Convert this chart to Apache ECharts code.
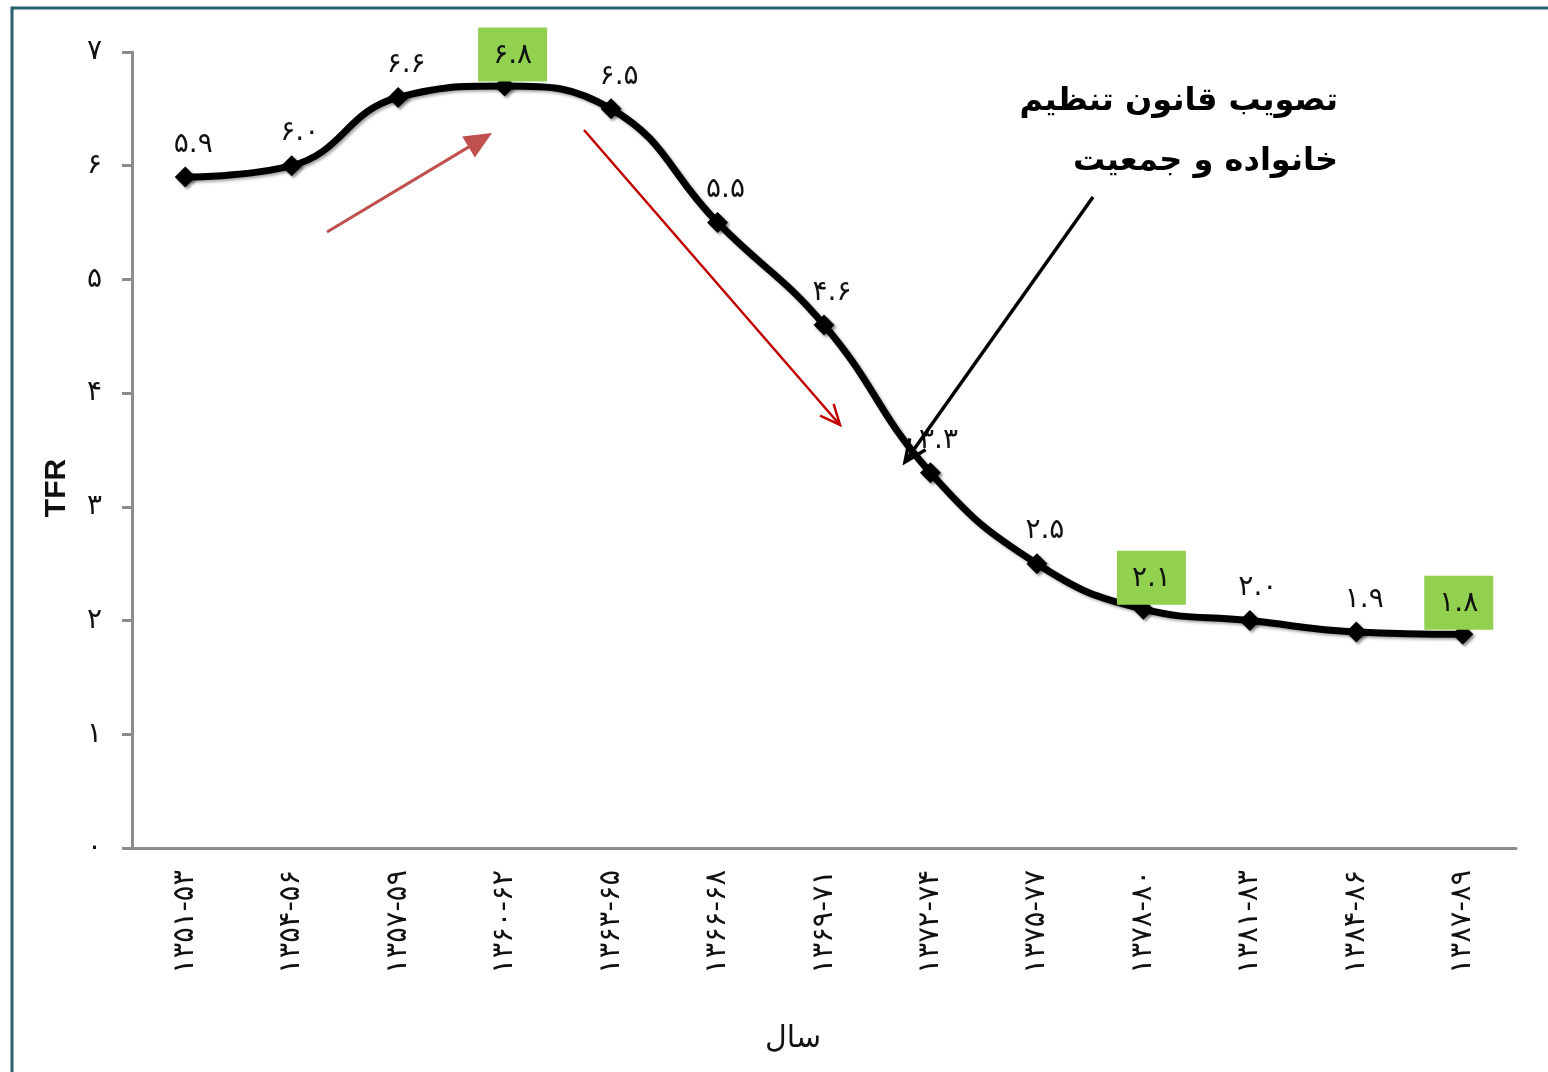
<!DOCTYPE html>
<html>
<head>
<meta charset="utf-8">
<script src="https://cdn.jsdelivr.net/npm/echarts@6/dist/echarts.min.js"></script>
<style>
html,body{margin:0;padding:0;background:#fff;}
#chart{width:1548px;height:1072px;}
</style>
</head>
<body>
<div id="chart"></div>
<script>
// ---- data ----
var categories = ['۱۳۵۱-۵۳','۱۳۵۴-۵۶','۱۳۵۷-۵۹','۱۳۶۰-۶۲','۱۳۶۳-۶۵','۱۳۶۶-۶۸','۱۳۶۹-۷۱','۱۳۷۲-۷۴','۱۳۷۵-۷۷','۱۳۷۸-۸۰','۱۳۸۱-۸۳','۱۳۸۴-۸۶','۱۳۸۷-۸۹'];
var tfrValues = [5.9, 6.0, 6.6, 6.7, 6.5, 5.5, 4.6, 3.3, 2.5, 2.1, 2.0, 1.9, 1.88];
var valueLabels = ['۵.۹','۶.۰','۶.۶','۶.۸','۶.۵','۵.۵','۴.۶','۳.۳','۲.۵','۲.۱','۲.۰','۱.۹','۱.۸'];
var highlightedIdx = [3, 9, 12];
var yTickLabels = ['۰','۱','۲','۳','۴','۵','۶','۷'];
var yAxisTitle = 'TFR';
var xAxisTitle = 'سال';
var noteLines = ['تصویب قانون تنظیم', 'خانواده و جمعیت'];

// ---- chart ----
var chart = echarts.init(document.getElementById('chart'));
var persianFont = '"DejaVu Sans", "Noto Sans", sans-serif';

var seriesData = tfrValues.map(function (v, i) {
  var item = { value: v };
  if (highlightedIdx.indexOf(i) >= 0) {
    item.label = {
      backgroundColor: '#92d050',
      padding: [14, 15, 12, 15],
      distance: -6,
      offset: i === 12 ? [-4, 0] : [8, 0]
    };
  }
  return item;
});

function arrowGraphics(x1, y1, x2, y2, color, width, headLen, filled) {
  var ang = Math.atan2(y2 - y1, x2 - x1);
  var a1 = ang + Math.PI - 0.42, a2 = ang + Math.PI + 0.42;
  var p1 = [x2 + headLen * Math.cos(a1), y2 + headLen * Math.sin(a1)];
  var p2 = [x2 + headLen * Math.cos(a2), y2 + headLen * Math.sin(a2)];
  var out = [];
  var endX = filled ? x2 - headLen * 0.8 * Math.cos(ang) : x2;
  var endY = filled ? y2 - headLen * 0.8 * Math.sin(ang) : y2;
  out.push({ type: 'line', shape: { x1: x1, y1: y1, x2: endX, y2: endY },
    style: { stroke: color, lineWidth: width }, z: 100 });
  if (filled) {
    out.push({ type: 'polygon', shape: { points: [[x2, y2], p1, p2] },
      style: { fill: color }, z: 100 });
  } else {
    out.push({ type: 'polyline', shape: { points: [p1, [x2, y2], p2] },
      style: { stroke: color, lineWidth: width, lineJoin: 'miter' }, z: 100 });
  }
  return out;
}

var graphics = [
  { type: 'rect', shape: { x: 12, y: 8, width: 1600, height: 1200 },
    style: { fill: 'none', stroke: '#2b5f6d', lineWidth: 3 }, z: 0, silent: true },
  { type: 'text', right: 1548 - 1338, top: 86,
    style: { text: noteLines[0], font: 'bold 32px ' + persianFont, fill: '#000', textAlign: 'right' }, z: 100 },
  { type: 'text', right: 1548 - 1338, top: 146,
    style: { text: noteLines[1], font: 'bold 32px ' + persianFont, fill: '#000', textAlign: 'right' }, z: 100 }
];
graphics = graphics
  .concat(arrowGraphics(327, 232, 492, 133, '#c0504d', 3, 30, true))
  .concat(arrowGraphics(584, 130, 840, 425, '#c00000', 2.5, 22, false))
  .concat(arrowGraphics(1093, 197, 905, 462, '#000000', 3.5, 24, false));

chart.setOption({
  animation: false,
  backgroundColor: '#ffffff',
  grid: { left: 132, right: 32, top: 52, bottom: 1072 - 848, containLabel: false },
  xAxis: {
    type: 'category',
    data: categories,
    boundaryGap: true,
    name: xAxisTitle,
    nameLocation: 'middle',
    nameGap: 176,
    nameTextStyle: { fontSize: 30, color: '#111', fontFamily: persianFont, padding: [0, 62, 0, 0] },
    axisLine: { lineStyle: { color: '#8c8c8c', width: 3 } },
    axisTick: { show: false },
    axisLabel: { rotate: 90, margin: 22, fontSize: 29, color: '#111', fontFamily: persianFont, interval: 0 }
  },
  yAxis: {
    type: 'value',
    min: 0, max: 7, interval: 1,
    name: yAxisTitle,
    nameLocation: 'middle',
    nameGap: 60,
    nameRotate: 90,
    nameTextStyle: { fontSize: 30, fontWeight: 'bold', color: '#111', fontFamily: 'Liberation Sans, Arial, sans-serif', padding: [0, 76, 0, 0] },
    axisLine: { show: true, lineStyle: { color: '#8c8c8c', width: 3 } },
    axisTick: { show: true, length: 10, lineStyle: { color: '#8c8c8c', width: 3 } },
    splitLine: { show: false },
    axisLabel: {
      margin: 30, fontSize: 28, color: '#111', fontFamily: persianFont,
      formatter: function (v) { return yTickLabels[Math.round(v)]; }
    }
  },
  series: [{
    type: 'line',
    data: seriesData,
    smooth: 0.45,
    symbol: 'diamond',
    symbolSize: 21,
    lineStyle: { color: '#000', width: 7, shadowColor: 'rgba(0,0,0,0.35)', shadowBlur: 3, shadowOffsetX: 2, shadowOffsetY: 2 },
    itemStyle: { color: '#000', shadowColor: 'rgba(0,0,0,0.45)', shadowBlur: 3, shadowOffsetX: 2, shadowOffsetY: 2 },
    label: {
      show: true,
      position: 'top',
      distance: 8,
      offset: [8, 0],
      fontSize: 28,
      color: '#111',
      fontFamily: persianFont,
      formatter: function (p) { return valueLabels[p.dataIndex]; }
    },
    z: 10
  }],
  graphic: graphics
});
</script>
</body>
</html>
